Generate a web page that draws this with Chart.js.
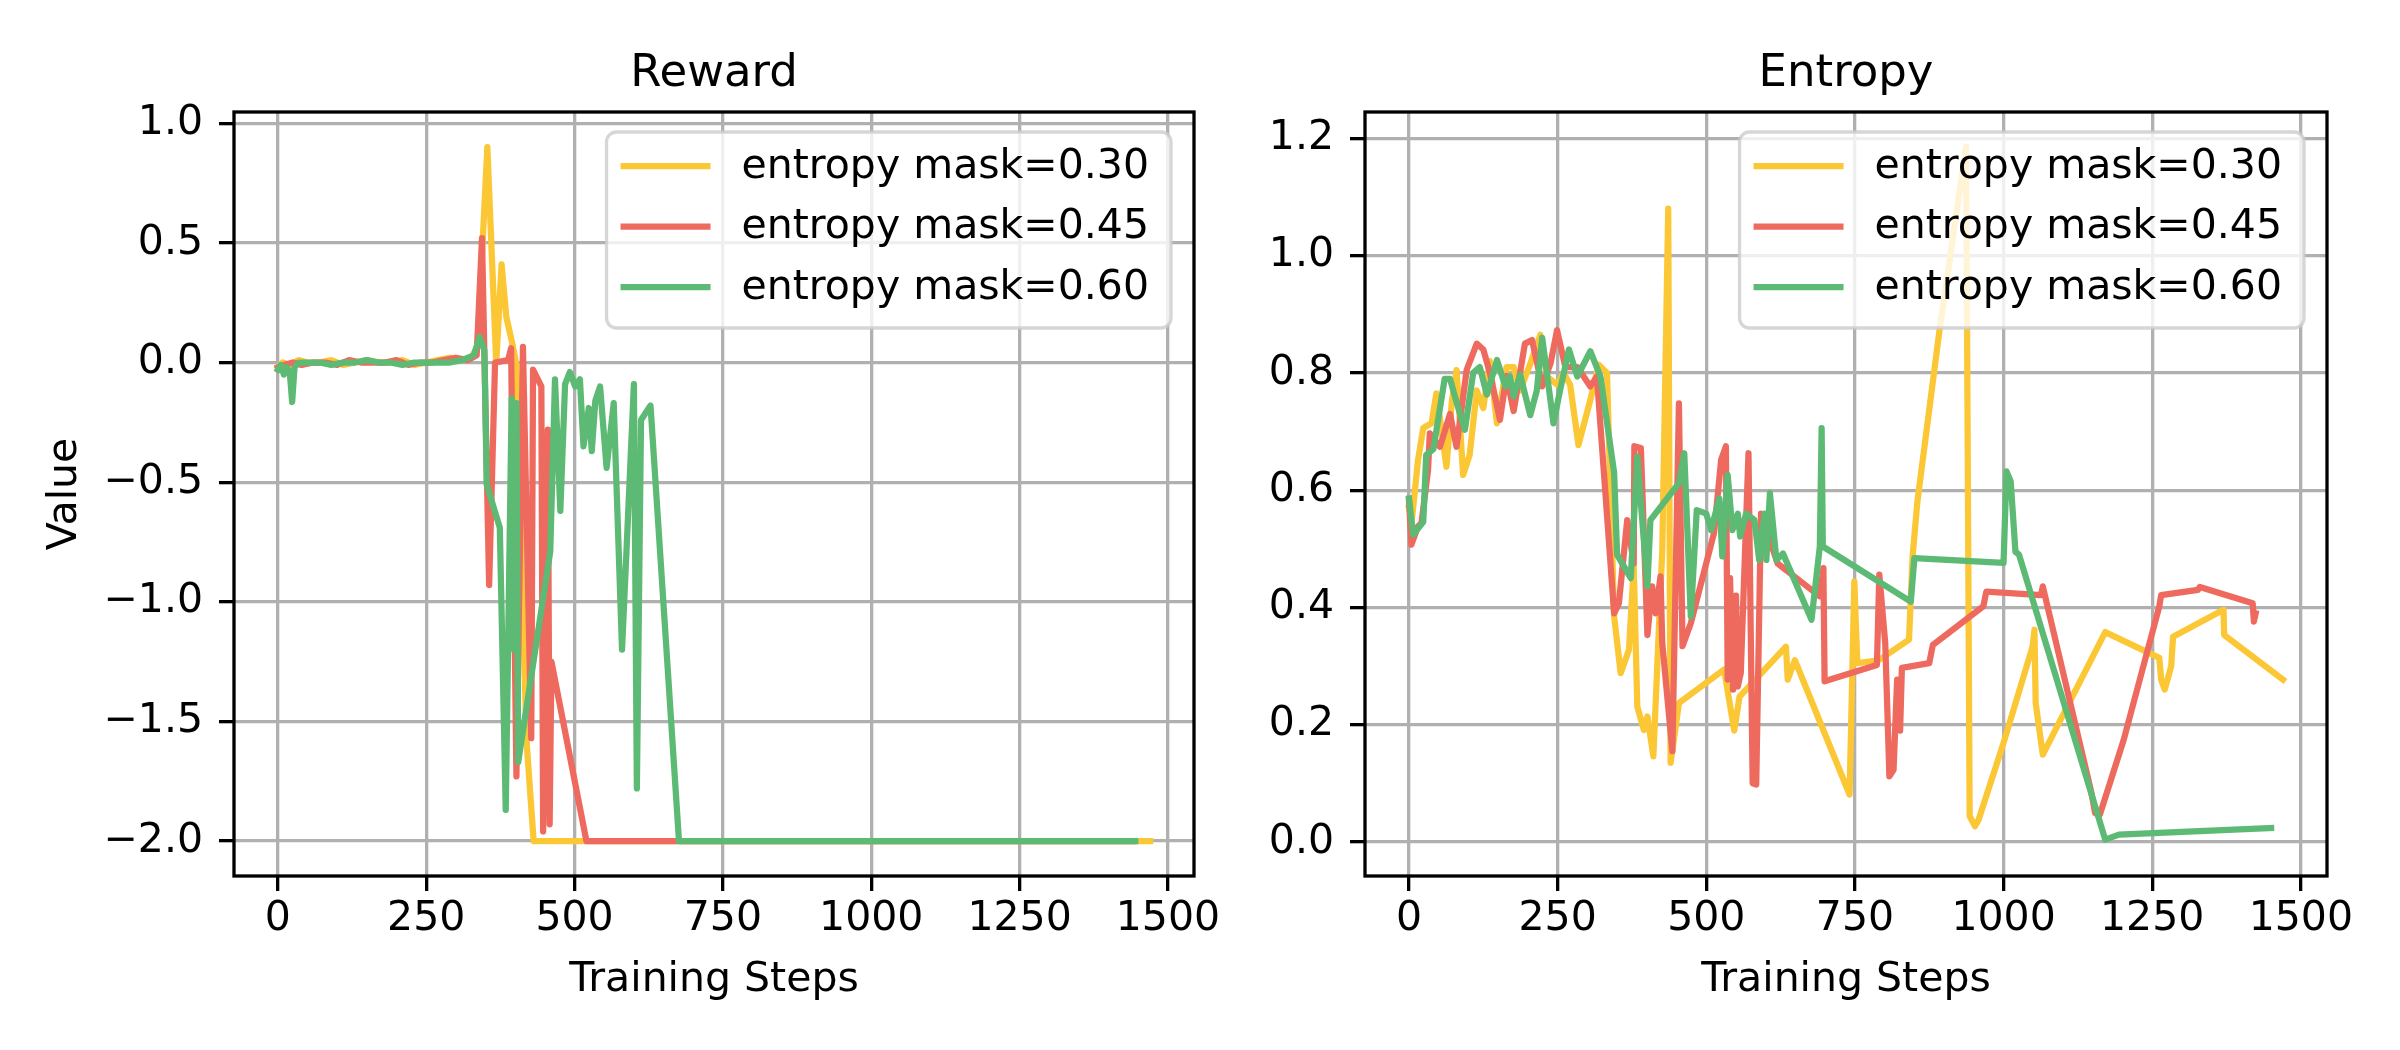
<!DOCTYPE html>
<html>
<head>
<meta charset="utf-8">
<script src="https://cdn.jsdelivr.net/npm/chart.js@4.4.1/dist/chart.umd.min.js"></script>
<style>
  html, body { margin: 0; padding: 0; background: #fff; }
  #wrap { position: relative; width: 2400px; height: 1050px; overflow: hidden; }
  canvas { position: absolute; top: 0; }
</style>
</head>
<body>
<div id="wrap">
  <canvas id="reward" width="1260" height="1050" style="left:0"></canvas>
  <canvas id="entropy" width="1200" height="1050" style="left:1200px"></canvas>
</div>
<script>
// series names and tick labels
const seriesLabels = ['entropy mask=0.30', 'entropy mask=0.45', 'entropy mask=0.60'];
const stepTicks = [0, 250, 500, 750, 1000, 1250, 1500];
const rewardTicks = [-2.0, -1.5, -1.0, -0.5, 0.0, 0.5, 1.0];
const entropyTicks = [0.0, 0.2, 0.4, 0.6, 0.8, 1.0, 1.2];

// Reward
const rewardSteps030 = [0, 8, 20, 35, 50, 70, 90, 110, 130, 150, 170, 190, 210, 230, 250, 270, 290, 310, 325, 336, 345, 353, 368, 377, 385, 395, 402, 419, 431, 1470];
const rewardValues030 = [-0.02, 0.0, -0.01, 0.01, 0.0, 0.0, 0.01, -0.01, 0.0, 0.01, 0.0, 0.0, 0.01, -0.01, 0.0, 0.01, 0.02, 0.01, 0.02, 0.06, 0.50, 0.90, 0.0, 0.41, 0.19, 0.08, -0.01, -1.58, -2.0, -2.0];

const rewardSteps045 = [0, 10, 25, 40, 60, 80, 100, 120, 140, 160, 180, 200, 220, 240, 260, 280, 300, 320, 335, 344, 356, 366, 388, 393, 402, 413, 427, 430, 444, 447, 455, 458, 461, 520, 1440];
const rewardValues045 = [-0.02, -0.01, 0.0, -0.01, 0.0, 0.0, -0.01, 0.01, 0.0, 0.0, 0.0, 0.01, -0.01, 0.0, 0.0, 0.01, 0.02, 0.01, 0.03, 0.52, -0.93, 0.0, 0.01, 0.06, -1.73, 0.065, -1.57, -0.03, -0.10, -1.96, -0.28, -1.93, -1.25, -2.0, -2.0];

const rewardSteps060 = [0, 5, 10, 15, 20, 24, 28, 35, 50, 70, 90, 110, 130, 150, 170, 190, 210, 230, 250, 270, 290, 310, 330, 340, 348, 352, 374, 384, 394, 398, 402, 405, 459, 467, 476, 484, 492, 501, 509, 515, 524, 529, 535, 543, 554, 566, 580, 588, 600, 605, 612, 628, 676, 1445];
const rewardValues060 = [-0.03, -0.01, -0.05, -0.02, -0.04, -0.165, -0.02, 0.0, 0.0, 0.0, -0.01, 0.0, 0.0, 0.01, 0.0, 0.0, -0.01, 0.0, 0.0, 0.0, 0.0, 0.01, 0.03, 0.107, 0.05, -0.51, -0.69, -1.87, -0.15, -1.2, -0.17, -1.67, -0.79, -0.07, -0.62, -0.09, -0.04, -0.10, -0.07, -0.35, -0.19, -0.37, -0.16, -0.10, -0.44, -0.17, -1.2, -0.76, -0.09, -1.78, -0.24, -0.18, -2.0, -2.0];

// Entropy
const entropySteps030 = [0, 5, 10, 15, 24, 38, 46, 55, 63, 72, 80, 91, 102, 114, 125, 136, 148, 164, 176, 187, 204, 221, 232, 249, 260, 271, 285, 305, 319, 333, 345, 356, 370, 378, 384, 395, 401, 411, 426, 436, 440, 449, 454, 530, 547, 556, 634, 637, 649, 741, 749, 754, 790, 841, 847, 855, 892, 937, 943, 952, 958, 1000, 1049, 1052, 1054, 1066, 1171, 1262, 1265, 1271, 1282, 1285, 1370, 1371, 1470];
const entropyValues030 = [0.57, 0.55, 0.60, 0.65, 0.706, 0.714, 0.765, 0.70, 0.64, 0.75, 0.805, 0.626, 0.66, 0.77, 0.74, 0.82, 0.714, 0.81, 0.81, 0.77, 0.816, 0.865, 0.794, 0.78, 0.80, 0.78, 0.677, 0.754, 0.814, 0.80, 0.385, 0.288, 0.328, 0.47, 0.231, 0.191, 0.214, 0.146, 0.498, 1.08, 0.135, 0.20, 0.237, 0.294, 0.19, 0.248, 0.333, 0.277, 0.31, 0.081, 0.444, 0.305, 0.31, 0.345, 0.487, 0.58, 0.871, 1.186, 0.044, 0.027, 0.038, 0.169, 0.334, 0.362, 0.237, 0.149, 0.358, 0.314, 0.277, 0.26, 0.30, 0.35, 0.396, 0.353, 0.277];

const entropySteps045 = [0, 4, 15, 21, 32, 35, 52, 69, 80, 97, 114, 125, 136, 153, 164, 176, 195, 207, 224, 238, 249, 263, 283, 305, 316, 330, 345, 353, 367, 378, 379, 390, 401, 409, 415, 423, 426, 443, 454, 460, 474, 513, 525, 533, 536, 540, 545, 550, 553, 558, 571, 578, 584, 592, 620, 677, 691, 697, 699, 787, 791, 801, 808, 815, 821, 826, 829, 875, 881, 966, 971, 1063, 1066, 1148, 1154, 1162, 1202, 1262, 1265, 1327, 1330, 1419, 1421, 1424];
const entropyValues045 = [0.583, 0.507, 0.538, 0.544, 0.634, 0.697, 0.674, 0.73, 0.674, 0.805, 0.85, 0.84, 0.80, 0.72, 0.795, 0.735, 0.85, 0.856, 0.777, 0.816, 0.873, 0.81, 0.81, 0.777, 0.794, 0.60, 0.39, 0.407, 0.549, 0.475, 0.675, 0.672, 0.353, 0.436, 0.39, 0.453, 0.339, 0.155, 0.748, 0.334, 0.373, 0.527, 0.652, 0.675, 0.277, 0.45, 0.26, 0.42, 0.265, 0.288, 0.663, 0.10, 0.098, 0.56, 0.475, 0.43, 0.419, 0.467, 0.274, 0.302, 0.456, 0.339, 0.112, 0.123, 0.277, 0.19, 0.297, 0.305, 0.336, 0.402, 0.427, 0.421, 0.436, 0.083, 0.049, 0.047, 0.174, 0.402, 0.421, 0.43, 0.435, 0.407, 0.376, 0.39];

const entropySteps060 = [0, 7, 24, 29, 41, 60, 69, 80, 94, 108, 119, 131, 148, 162, 170, 176, 187, 204, 215, 224, 243, 254, 269, 283, 305, 322, 330, 345, 350, 373, 384, 401, 406, 454, 463, 474, 484, 500, 508, 522, 527, 536, 544, 553, 557, 567, 581, 589, 598, 601, 607, 618, 629, 677, 691, 694, 696, 844, 850, 1000, 1005, 1012, 1020, 1026, 1171, 1194, 1450];
const entropyValues060 = [0.586, 0.524, 0.546, 0.66, 0.67, 0.79, 0.79, 0.75, 0.703, 0.80, 0.81, 0.763, 0.822, 0.777, 0.794, 0.76, 0.797, 0.728, 0.77, 0.86, 0.714, 0.77, 0.84, 0.794, 0.837, 0.794, 0.737, 0.63, 0.49, 0.45, 0.657, 0.436, 0.549, 0.612, 0.663, 0.385, 0.566, 0.56, 0.532, 0.586, 0.487, 0.626, 0.532, 0.56, 0.521, 0.56, 0.549, 0.481, 0.56, 0.481, 0.595, 0.481, 0.492, 0.379, 0.504, 0.706, 0.504, 0.41, 0.484, 0.476, 0.632, 0.615, 0.495, 0.49, 0.004, 0.0125, 0.024];

const lineColors = ['#FCC735', '#EE6A5E', '#5DBA74'];
const FONT = "'DejaVu Sans', 'Liberation Sans', sans-serif";

Chart.defaults.font.family = FONT;
Chart.defaults.color = '#000';

function toPoints(steps, values) {
  return steps.map((x, i) => ({ x: x, y: values[i] }));
}

function minusSign(v) {
  return v.toFixed(1).replace('-', '\u2212');
}

// black box round the axes plus a matplotlib-like legend in the upper right
const framePlugin = {
  id: 'frame',
  afterDatasetsDraw(chart) {
    const { ctx, chartArea: a } = chart;
    ctx.save();
    ctx.strokeStyle = '#000';
    ctx.lineWidth = 3.3;
    ctx.strokeRect(a.left, a.top, a.right - a.left, a.bottom - a.top);
    ctx.restore();
  },
  afterDraw(chart) {
    const { ctx, chartArea: a } = chart;
    const sets = chart.data.datasets;
    ctx.save();
    ctx.font = '41px ' + FONT;
    let textW = 0;
    sets.forEach(ds => { textW = Math.max(textW, ctx.measureText(ds.label).width); });
    const w = 135 + textW + 22;
    const h = 196;
    const right = a.right - 23;
    const top = a.top + 20;
    const left = right - w;
    ctx.beginPath();
    ctx.roundRect(left, top, w, h, 10);
    ctx.fillStyle = 'rgba(255,255,255,0.8)';
    ctx.fill();
    ctx.lineWidth = 3.3;
    ctx.strokeStyle = 'rgba(204,204,204,0.8)';
    ctx.stroke();
    ctx.textBaseline = 'middle';
    ctx.fillStyle = '#000';
    sets.forEach((ds, i) => {
      const y = top + 34 + i * 60.5;
      ctx.strokeStyle = ds.borderColor;
      ctx.lineWidth = 6.25;
      ctx.beginPath();
      ctx.moveTo(left + 14, y);
      ctx.lineTo(left + 104, y);
      ctx.stroke();
      ctx.fillText(ds.label, left + 135, y + 1);
    });
    ctx.restore();
  }
};

function makeChart(id, title, seriesPoints, yMin, yMax, yTicks, yTitle, yAxisWidth, padRight) {
  const datasets = seriesPoints.map((pts, i) => ({
    label: seriesLabels[i],
    data: pts,
    borderColor: lineColors[i],
    backgroundColor: lineColors[i],
    borderWidth: 6.25,
    pointRadius: 0,
    tension: 0,
    borderJoinStyle: 'round',
    borderCapStyle: 'square',
    order: 3 - i
  }));

  const grid = {
    color: '#b0b0b0',
    lineWidth: 3.3,
    tickColor: '#000',
    tickWidth: 3.3,
    tickLength: 15
  };

  return new Chart(document.getElementById(id), {
    type: 'line',
    data: { datasets: datasets },
    options: {
      responsive: false,
      animation: false,
      layout: { padding: { left: 0, right: padRight, top: 0, bottom: 0 } },
      plugins: {
        legend: { display: false },
        tooltip: { enabled: false },
        title: {
          display: true,
          text: title,
          fullSize: false,
          color: '#000',
          font: { size: 45, weight: 'normal', lineHeight: 1.2 },
          padding: { top: 47, bottom: 11 }
        }
      },
      scales: {
        x: {
          type: 'linear',
          min: -74,
          max: 1544,
          border: { display: false },
          grid: grid,
          ticks: {
            font: { size: 41 },
            color: '#000',
            padding: 4,
            maxRotation: 0,
            callback: v => String(v)
          },
          title: {
            display: true,
            text: 'Training Steps',
            color: '#000',
            font: { size: 41 },
            padding: { top: 0, bottom: 45 }
          },
          afterBuildTicks: s => { s.ticks = stepTicks.map(v => ({ value: v })); },
          afterFit: s => { s.height = 174; s.paddingLeft = 0; s.paddingRight = 0; }
        },
        y: {
          type: 'linear',
          min: yMin,
          max: yMax,
          border: { display: false },
          grid: grid,
          ticks: {
            font: { size: 41 },
            color: '#000',
            padding: 16,
            callback: v => minusSign(v)
          },
          title: {
            display: !!yTitle,
            text: yTitle,
            color: '#000',
            font: { size: 41 },
            padding: { top: 41, bottom: 0 }
          },
          afterBuildTicks: s => { s.ticks = yTicks.map(v => ({ value: v })); },
          afterFit: s => { s.width = yAxisWidth; s.paddingTop = 0; s.paddingBottom = 0; }
        }
      }
    },
    plugins: [framePlugin]
  });
}

makeChart('reward', 'Reward', [
  toPoints(rewardSteps030, rewardValues030),
  toPoints(rewardSteps045, rewardValues045),
  toPoints(rewardSteps060, rewardValues060)
], -2.146, 1.047, rewardTicks, 'Value', 234, 66);

makeChart('entropy', 'Entropy', [
  toPoints(entropySteps030, entropyValues030),
  toPoints(entropySteps045, entropyValues045),
  toPoints(entropySteps060, entropyValues060)
], -0.058, 1.245, entropyTicks, '', 165, 73);
</script>
</body>
</html>
